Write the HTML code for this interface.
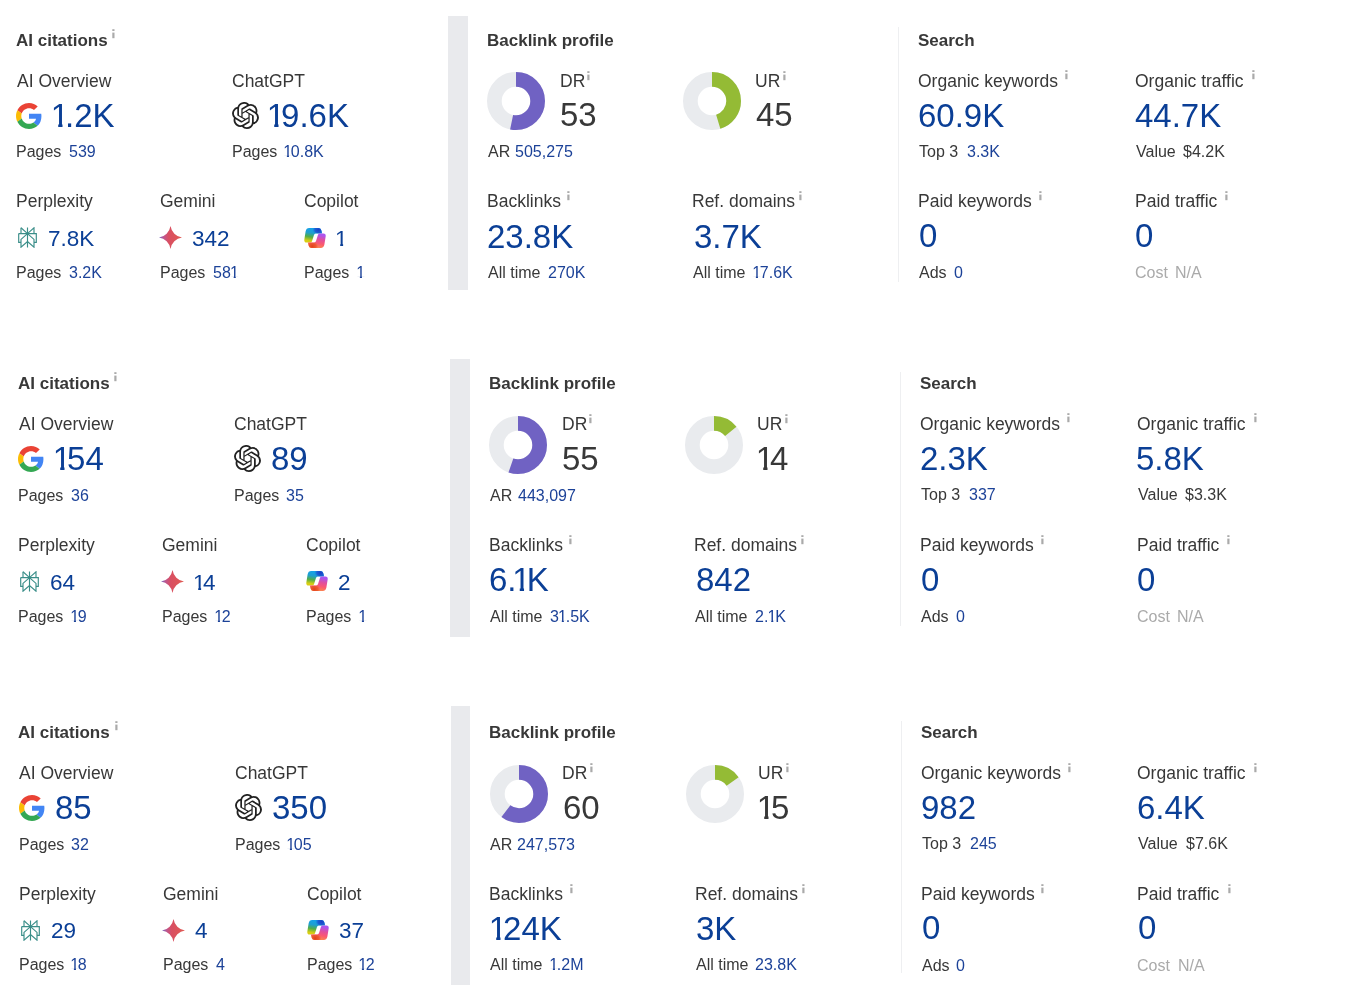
<!DOCTYPE html>
<html><head><meta charset="utf-8"><style>
html,body{margin:0;padding:0;background:#fff;width:1350px;height:1000px;overflow:hidden}
body{position:relative;font-family:"Liberation Sans",sans-serif}
.t{position:absolute;white-space:nowrap;line-height:1;will-change:transform}
.a{position:absolute}
.o{display:inline-block;margin-left:-0.133em;margin-right:-0.118em;clip-path:polygon(0 0,100% 0,100% 0.70em,0.36em 0.70em,0.36em 100%,0.23em 100%,0.23em 0.70em,0 0.70em)}.os{display:inline-block;margin-left:-0.05em;margin-right:-0.08em;clip-path:polygon(0 0,100% 0,100% 0.70em,0.36em 0.70em,0.36em 100%,0.23em 100%,0.23em 0.70em,0 0.70em)}
svg{display:block}
</style></head><body>
<div class="t" style="left:15.70px;top:32.00px;font-size:17px;color:#383838;font-weight:700;">AI citations</div>
<svg class="a" style="left:111.80px;top:29.00px" width="3" height="10"><rect x="0.3" y="0.2" width="2.2" height="1.8" fill="#aaa"/><rect x="0.3" y="3.6" width="2.2" height="5.6" fill="#aaa"/></svg>
<div class="t" style="left:16.70px;top:73.00px;font-size:17.5px;color:#383838;font-weight:400;">AI Overview</div>
<div class="a" style="left:16.00px;top:103.00px;line-height:0"><svg viewBox="0 0 48 48" width="26" height="26"><path fill="#EA4335" d="M24 9.5c3.54 0 6.71 1.22 9.21 3.6l6.85-6.85C35.9 2.38 30.47 0 24 0 14.62 0 6.51 5.38 2.56 13.22l7.98 6.19C12.43 13.72 17.74 9.5 24 9.5z"/><path fill="#4285F4" d="M46.98 24.55c0-1.570-.15-3.09-.38-4.55H24v9.02h12.94c-.58 2.96-2.26 5.48-4.780 7.18l7.73 6c4.51-4.18 7.09-10.36 7.09-17.65z"/><path fill="#FBBC05" d="M10.53 28.59c-.48-1.45-.76-2.99-.76-4.59s.27-3.14.76-4.59l-7.98-6.19C.92 16.46 0 20.12 0 24c0 3.88.92 7.54 2.56 10.78l7.97-6.19z"/><path fill="#34A853" d="M24 48c6.48 0 11.930-2.13 15.89-5.81l-7.73-6c-2.15 1.45-4.92 2.3-8.16 2.3-6.26 0-11.57-4.22-13.47-9.91l-7.98 6.19C6.51 42.62 14.62 48 24 48z"/></svg></div>
<div class="t" style="left:54.60px;top:99.00px;font-size:33px;color:#0b3f96;font-weight:400;"><span class="o">1</span>.2K</div>
<div class="t" style="left:16.10px;top:144.00px;font-size:16px;color:#383838;font-weight:400;">Pages</div>
<div class="t" style="left:68.60px;top:144.00px;font-size:16px;color:#1c4298;font-weight:400;">539</div>
<div class="t" style="left:232.00px;top:73.00px;font-size:17.5px;color:#383838;font-weight:400;">ChatGPT</div>
<div class="a" style="left:232.00px;top:102.00px;line-height:0"><svg viewBox="0 0 24 24" width="27" height="27"><path fill="#222" d="M22.2819 9.8211a5.9847 5.9847 0 0 0-.5157-4.9108 6.0462 6.0462 0 0 0-6.5098-2.9A6.0651 6.0651 0 0 0 4.9807 4.1818a5.9847 5.9847 0 0 0-3.9977 2.9 6.0462 6.0462 0 0 0 .7427 7.0966 5.98 5.98 0 0 0 .511 4.9107 6.051 6.051 0 0 0 6.5146 2.9001A5.9847 5.9847 0 0 0 13.2599 24a6.0557 6.0557 0 0 0 5.7718-4.2058 5.9894 5.9894 0 0 0 3.9977-2.9001 6.0557 6.0557 0 0 0-.7475-7.0729zm-9.022 12.6081a4.4755 4.4755 0 0 1-2.8764-1.0408l.1419-.0804 4.7783-2.7582a.7948.7948 0 0 0 .3927-.6813v-6.7369l2.02 1.1686a.071.071 0 0 1 .038.052v5.5826a4.504 4.504 0 0 1-4.4945 4.4944zm-9.6607-4.1254a4.4708 4.4708 0 0 1-.5346-3.0137l.142.0852 4.783 2.7582a.7712.7712 0 0 0 .7806 0l5.8428-3.3685v2.3324a.0804.0804 0 0 1-.0332.0615L9.74 19.9502a4.4992 4.4992 0 0 1-6.1408-1.6464zM2.3408 7.8956a4.485 4.485 0 0 1 2.3655-1.9728V11.6a.7664.7664 0 0 0 .3879.6765l5.8144 3.3543-2.0201 1.1685a.0757.0757 0 0 1-.071 0l-4.8303-2.7865A4.504 4.504 0 0 1 2.3408 7.872zm16.5963 3.8558L13.1038 8.364 15.1192 7.2a.0757.0757 0 0 1 .071 0l4.8303 2.7913a4.4944 4.4944 0 0 1-.6765 8.1042v-5.6772a.79.79 0 0 0-.407-.667zm2.0107-3.0231l-.142-.0852-4.7735-2.7818a.7759.7759 0 0 0-.7854 0L9.409 9.2297V6.8974a.0662.0662 0 0 1 .0284-.0615l4.8303-2.7866a4.4992 4.4992 0 0 1 6.6802 4.66zM8.3065 12.863l-2.02-1.1638a.0804.0804 0 0 1-.038-.0567V6.0742a4.4992 4.4992 0 0 1 7.3757-3.4537l-.142.0805L8.704 5.459a.7948.7948 0 0 0-.3927.6813zm1.0976-2.3654l2.602-1.4998 2.6069 1.4998v2.9994l-2.5974 1.4997-2.6067-1.4997Z"/></svg></div>
<div class="t" style="left:270.90px;top:99.00px;font-size:33px;color:#0b3f96;font-weight:400;"><span class="o">1</span>9.6K</div>
<div class="t" style="left:232.00px;top:144.00px;font-size:16px;color:#383838;font-weight:400;">Pages</div>
<div class="t" style="left:284.00px;top:144.00px;font-size:16px;color:#1c4298;font-weight:400;"><span class="os">1</span>0.8K</div>
<div class="t" style="left:16.10px;top:193.00px;font-size:17.5px;color:#383838;font-weight:400;">Perplexity</div>
<div class="a" style="left:17.90px;top:227.00px;line-height:0"><svg viewBox="0 0 19 21" width="19" height="21"><g fill="none" stroke="#3a8e89" stroke-width="1.15" stroke-linejoin="miter"><path d="M9.5 0.5V20.5"/><path d="M3 0.8L9.5 6.6L16 0.8V6.6"/><path d="M3 0.8V6.6"/><path d="M0.7 6.6H18.3V15.4H16"/><path d="M0.7 6.6V15.4H3"/><path d="M9.5 6.6L3 12.4V20.2L9.5 14.6L16 20.2V12.4L9.5 6.6"/></g></svg></div>
<div class="t" style="left:47.90px;top:228.00px;font-size:22.5px;color:#0b3f96;font-weight:400;">7.8K</div>
<div class="t" style="left:16.10px;top:265.00px;font-size:16px;color:#383838;font-weight:400;">Pages</div>
<div class="t" style="left:68.60px;top:265.00px;font-size:16px;color:#1c4298;font-weight:400;">3.2K</div>
<div class="t" style="left:160.00px;top:193.00px;font-size:17.5px;color:#383838;font-weight:400;">Gemini</div>
<div class="a" style="left:159.00px;top:226.20px;line-height:0"><svg viewBox="0 0 24 24" width="23" height="23"><defs><linearGradient id="gg1" x1="0" y1="0.5" x2="1" y2="0.5"><stop offset="0" stop-color="#7466c2"/><stop offset="0.22" stop-color="#c2568a"/><stop offset="0.42" stop-color="#d94f62"/><stop offset="1" stop-color="#e05a52"/></linearGradient></defs><path fill="url(#gg1)" d="M12 24A14.3 14.3 0 0 0 0 12A14.3 14.3 0 0 0 12 0A14.3 14.3 0 0 0 24 12A14.3 14.3 0 0 0 12 24Z"/></svg></div>
<div class="t" style="left:191.80px;top:228.00px;font-size:22.5px;color:#0b3f96;font-weight:400;">342</div>
<div class="t" style="left:160.00px;top:265.00px;font-size:16px;color:#383838;font-weight:400;">Pages</div>
<div class="t" style="left:212.50px;top:265.00px;font-size:16px;color:#1c4298;font-weight:400;">58<span class="os">1</span></div>
<div class="t" style="left:304.00px;top:193.00px;font-size:17.5px;color:#383838;font-weight:400;">Copilot</div>
<div class="a" style="left:304.00px;top:227.50px;line-height:0"><svg viewBox="0 0 22 20" width="22" height="20"><defs>
<linearGradient id="cl1" x1="0.55" y1="0" x2="0.35" y2="1"><stop offset="0" stop-color="#14a2ec"/><stop offset="0.35" stop-color="#1f9fcf"/><stop offset="0.62" stop-color="#52ad48"/><stop offset="0.9" stop-color="#d8ce12"/></linearGradient>
<linearGradient id="cr1" x1="0.65" y1="0" x2="0.45" y2="1"><stop offset="0.1" stop-color="#ad55ee"/><stop offset="0.4" stop-color="#e04f9f"/><stop offset="0.68" stop-color="#fa5872"/><stop offset="1" stop-color="#fb8a4c"/></linearGradient>
<radialGradient id="cb1" cx="0.8" cy="0.12" r="0.35"><stop offset="0" stop-color="#1b3ec4"/><stop offset="0.6" stop-color="#1b4fd0" stop-opacity="0.8"/><stop offset="1" stop-color="#1b6fe0" stop-opacity="0"/></radialGradient>
<radialGradient id="co1" cx="0.25" cy="0.88" r="0.35"><stop offset="0" stop-color="#e2401c"/><stop offset="0.6" stop-color="#ea5228" stop-opacity="0.8"/><stop offset="1" stop-color="#f06a3a" stop-opacity="0"/></radialGradient>
</defs>
<path fill="url(#cl1)" d="M5.2 0L14.5 0Q16.6 0 17.2 2L18.2 5.6L11.8 5.6Q10.3 5.6 9.9 7.2L8 13.3Q7.6 14.6 6.2 14.6L2.6 14.6Q0 14.6 0.3 11.8L1.6 3.4Q2.2 0 5.2 0Z"/>
<path fill="url(#cb1)" d="M5.2 0L14.5 0Q16.6 0 17.2 2L18.2 5.6L11.8 5.6Q10.3 5.6 9.9 7.2L8 13.3Q7.6 14.6 6.2 14.6L2.6 14.6Q0 14.6 0.3 11.8L1.6 3.4Q2.2 0 5.2 0Z"/>
<path fill="url(#cr1)" d="M16.8 20L7.5 20Q5.4 20 4.8 18L3.8 14.4L10.2 14.4Q11.7 14.4 12.1 12.8L14 6.7Q14.4 5.4 15.8 5.4L19.4 5.4Q22 5.4 21.7 8.2L20.4 16.6Q19.8 20 16.8 20Z"/>
<path fill="url(#co1)" d="M16.8 20L7.5 20Q5.4 20 4.8 18L3.8 14.4L10.2 14.4Q11.7 14.4 12.1 12.8L14 6.7Q14.4 5.4 15.8 5.4L19.4 5.4Q22 5.4 21.7 8.2L20.4 16.6Q19.8 20 16.8 20Z"/>
</svg></div>
<div class="t" style="left:337.80px;top:228.00px;font-size:22.5px;color:#0b3f96;font-weight:400;"><span class="o">1</span></div>
<div class="t" style="left:304.00px;top:265.00px;font-size:16px;color:#383838;font-weight:400;">Pages</div>
<div class="t" style="left:356.50px;top:265.00px;font-size:16px;color:#1c4298;font-weight:400;"><span class="os">1</span></div>
<div class="a" style="left:448px;top:16px;width:20px;height:274px;background:#e9eaed"></div>
<div class="t" style="left:486.70px;top:32.00px;font-size:17px;color:#383838;font-weight:700;">Backlink profile</div>
<svg class="a" style="left:486.20px;top:70.90px" width="60" height="60" viewBox="0 0 60 60"><circle cx="30" cy="30" r="21.65" fill="none" stroke="#e9ebee" stroke-width="14.7"/><circle cx="30" cy="30" r="21.65" fill="none" stroke="#7062c3" stroke-width="14.7" stroke-dasharray="72.096 136.031" transform="rotate(-90 30 30)"/></svg>
<div class="t" style="left:559.60px;top:73.00px;font-size:17.5px;color:#383838;font-weight:400;">DR</div>
<svg class="a" style="left:587.30px;top:70.70px" width="3" height="10"><rect x="0.3" y="0.2" width="2.2" height="1.8" fill="#aaa"/><rect x="0.3" y="3.6" width="2.2" height="5.6" fill="#aaa"/></svg>
<div class="t" style="left:559.80px;top:98.00px;font-size:33px;color:#383838;font-weight:400;">53</div>
<div class="t" style="left:487.70px;top:144.00px;font-size:16px;color:#383838;font-weight:400;">AR</div>
<div class="t" style="left:514.60px;top:144.00px;font-size:16px;color:#1c4298;font-weight:400;">505,275</div>
<svg class="a" style="left:682.00px;top:70.90px" width="60" height="60" viewBox="0 0 60 60"><circle cx="30" cy="30" r="21.65" fill="none" stroke="#e9ebee" stroke-width="14.7"/><circle cx="30" cy="30" r="21.65" fill="none" stroke="#94bb35" stroke-width="14.7" stroke-dasharray="61.214 136.031" transform="rotate(-90 30 30)"/></svg>
<div class="t" style="left:755.20px;top:73.00px;font-size:17.5px;color:#383838;font-weight:400;">UR</div>
<svg class="a" style="left:783.40px;top:70.70px" width="3" height="10"><rect x="0.3" y="0.2" width="2.2" height="1.8" fill="#aaa"/><rect x="0.3" y="3.6" width="2.2" height="5.6" fill="#aaa"/></svg>
<div class="t" style="left:755.80px;top:98.00px;font-size:33px;color:#383838;font-weight:400;">45</div>
<div class="t" style="left:486.70px;top:193.00px;font-size:17.5px;color:#383838;font-weight:400;">Backlinks</div>
<svg class="a" style="left:567.10px;top:191.30px" width="3" height="10"><rect x="0.3" y="0.2" width="2.2" height="1.8" fill="#aaa"/><rect x="0.3" y="3.6" width="2.2" height="5.6" fill="#aaa"/></svg>
<div class="t" style="left:487.00px;top:220.00px;font-size:33px;color:#0b3f96;font-weight:400;">23.8K</div>
<div class="t" style="left:487.70px;top:265.00px;font-size:16px;color:#383838;font-weight:400;">All time</div>
<div class="t" style="left:547.50px;top:265.00px;font-size:16px;color:#1c4298;font-weight:400;">270K</div>
<div class="t" style="left:692.30px;top:193.00px;font-size:17.5px;color:#383838;font-weight:400;">Ref. domains</div>
<svg class="a" style="left:799.40px;top:191.30px" width="3" height="10"><rect x="0.3" y="0.2" width="2.2" height="1.8" fill="#aaa"/><rect x="0.3" y="3.6" width="2.2" height="5.6" fill="#aaa"/></svg>
<div class="t" style="left:693.50px;top:220.00px;font-size:33px;color:#0b3f96;font-weight:400;">3.7K</div>
<div class="t" style="left:693.30px;top:265.00px;font-size:16px;color:#383838;font-weight:400;">All time</div>
<div class="t" style="left:752.70px;top:265.00px;font-size:16px;color:#1c4298;font-weight:400;"><span class="os">1</span>7.6K</div>
<div class="a" style="left:898px;top:27px;width:1px;height:255px;background:#eeeff1"></div>
<div class="t" style="left:918.40px;top:32.00px;font-size:17px;color:#383838;font-weight:700;">Search</div>
<div class="t" style="left:918.40px;top:73.00px;font-size:17.5px;color:#383838;font-weight:400;">Organic keywords</div>
<svg class="a" style="left:1065.30px;top:70.20px" width="3" height="10"><rect x="0.3" y="0.2" width="2.2" height="1.8" fill="#aaa"/><rect x="0.3" y="3.6" width="2.2" height="5.6" fill="#aaa"/></svg>
<div class="t" style="left:918.40px;top:99.00px;font-size:33px;color:#0b3f96;font-weight:400;">60.9K</div>
<div class="t" style="left:919.40px;top:144.00px;font-size:16px;color:#383838;font-weight:400;">Top 3</div>
<div class="t" style="left:967.00px;top:144.00px;font-size:16px;color:#1c4298;font-weight:400;">3.3K</div>
<div class="t" style="left:1134.70px;top:73.00px;font-size:17.5px;color:#383838;font-weight:400;">Organic traffic</div>
<svg class="a" style="left:1251.70px;top:70.20px" width="3" height="10"><rect x="0.3" y="0.2" width="2.2" height="1.8" fill="#aaa"/><rect x="0.3" y="3.6" width="2.2" height="5.6" fill="#aaa"/></svg>
<div class="t" style="left:1135.30px;top:99.00px;font-size:33px;color:#0b3f96;font-weight:400;">44.7K</div>
<div class="t" style="left:1135.70px;top:144.00px;font-size:16px;color:#383838;font-weight:400;">Value</div>
<div class="t" style="left:1183.00px;top:144.00px;font-size:16px;color:#383838;font-weight:400;">$4.2K</div>
<div class="t" style="left:918.30px;top:193.00px;font-size:17.5px;color:#383838;font-weight:400;">Paid keywords</div>
<svg class="a" style="left:1038.70px;top:191.30px" width="3" height="10"><rect x="0.3" y="0.2" width="2.2" height="1.8" fill="#aaa"/><rect x="0.3" y="3.6" width="2.2" height="5.6" fill="#aaa"/></svg>
<div class="t" style="left:919.40px;top:219.00px;font-size:33px;color:#0b3f96;font-weight:400;">0</div>
<div class="t" style="left:919.30px;top:265.00px;font-size:16px;color:#383838;font-weight:400;">Ads</div>
<div class="t" style="left:953.70px;top:265.00px;font-size:16px;color:#1c4298;font-weight:400;">0</div>
<div class="t" style="left:1134.70px;top:193.00px;font-size:17.5px;color:#383838;font-weight:400;">Paid traffic</div>
<svg class="a" style="left:1225.00px;top:191.30px" width="3" height="10"><rect x="0.3" y="0.2" width="2.2" height="1.8" fill="#aaa"/><rect x="0.3" y="3.6" width="2.2" height="5.6" fill="#aaa"/></svg>
<div class="t" style="left:1135.30px;top:219.00px;font-size:33px;color:#0b3f96;font-weight:400;">0</div>
<div class="t" style="left:1134.70px;top:265.00px;font-size:16px;color:#aaa;font-weight:400;">Cost</div>
<div class="t" style="left:1175.30px;top:265.00px;font-size:16px;color:#aaa;font-weight:400;">N/A</div>
<div class="t" style="left:17.70px;top:375.00px;font-size:17px;color:#383838;font-weight:700;">AI citations</div>
<svg class="a" style="left:113.80px;top:372.04px" width="3" height="10"><rect x="0.3" y="0.2" width="2.2" height="1.8" fill="#aaa"/><rect x="0.3" y="3.6" width="2.2" height="5.6" fill="#aaa"/></svg>
<div class="t" style="left:18.70px;top:416.00px;font-size:17.5px;color:#383838;font-weight:400;">AI Overview</div>
<div class="a" style="left:18.00px;top:446.30px;line-height:0"><svg viewBox="0 0 48 48" width="26" height="26"><path fill="#EA4335" d="M24 9.5c3.54 0 6.71 1.22 9.21 3.6l6.85-6.85C35.9 2.38 30.47 0 24 0 14.62 0 6.51 5.38 2.56 13.22l7.98 6.19C12.43 13.72 17.74 9.5 24 9.5z"/><path fill="#4285F4" d="M46.98 24.55c0-1.570-.15-3.09-.38-4.55H24v9.02h12.94c-.58 2.96-2.26 5.48-4.780 7.18l7.73 6c4.51-4.18 7.09-10.36 7.09-17.65z"/><path fill="#FBBC05" d="M10.53 28.59c-.48-1.45-.76-2.99-.76-4.59s.27-3.14.76-4.59l-7.98-6.19C.92 16.46 0 20.12 0 24c0 3.88.92 7.54 2.56 10.78l7.97-6.19z"/><path fill="#34A853" d="M24 48c6.48 0 11.930-2.13 15.89-5.81l-7.73-6c-2.15 1.45-4.92 2.3-8.16 2.3-6.26 0-11.57-4.22-13.47-9.91l-7.98 6.19C6.51 42.62 14.62 48 24 48z"/></svg></div>
<div class="t" style="left:56.60px;top:442.00px;font-size:33px;color:#0b3f96;font-weight:400;"><span class="o">1</span>54</div>
<div class="t" style="left:18.10px;top:488.00px;font-size:16px;color:#383838;font-weight:400;">Pages</div>
<div class="t" style="left:70.60px;top:488.00px;font-size:16px;color:#1c4298;font-weight:400;">36</div>
<div class="t" style="left:234.00px;top:416.00px;font-size:17.5px;color:#383838;font-weight:400;">ChatGPT</div>
<div class="a" style="left:234.00px;top:445.30px;line-height:0"><svg viewBox="0 0 24 24" width="27" height="27"><path fill="#222" d="M22.2819 9.8211a5.9847 5.9847 0 0 0-.5157-4.9108 6.0462 6.0462 0 0 0-6.5098-2.9A6.0651 6.0651 0 0 0 4.9807 4.1818a5.9847 5.9847 0 0 0-3.9977 2.9 6.0462 6.0462 0 0 0 .7427 7.0966 5.98 5.98 0 0 0 .511 4.9107 6.051 6.051 0 0 0 6.5146 2.9001A5.9847 5.9847 0 0 0 13.2599 24a6.0557 6.0557 0 0 0 5.7718-4.2058 5.9894 5.9894 0 0 0 3.9977-2.9001 6.0557 6.0557 0 0 0-.7475-7.0729zm-9.022 12.6081a4.4755 4.4755 0 0 1-2.8764-1.0408l.1419-.0804 4.7783-2.7582a.7948.7948 0 0 0 .3927-.6813v-6.7369l2.02 1.1686a.071.071 0 0 1 .038.052v5.5826a4.504 4.504 0 0 1-4.4945 4.4944zm-9.6607-4.1254a4.4708 4.4708 0 0 1-.5346-3.0137l.142.0852 4.783 2.7582a.7712.7712 0 0 0 .7806 0l5.8428-3.3685v2.3324a.0804.0804 0 0 1-.0332.0615L9.74 19.9502a4.4992 4.4992 0 0 1-6.1408-1.6464zM2.3408 7.8956a4.485 4.485 0 0 1 2.3655-1.9728V11.6a.7664.7664 0 0 0 .3879.6765l5.8144 3.3543-2.0201 1.1685a.0757.0757 0 0 1-.071 0l-4.8303-2.7865A4.504 4.504 0 0 1 2.3408 7.872zm16.5963 3.8558L13.1038 8.364 15.1192 7.2a.0757.0757 0 0 1 .071 0l4.8303 2.7913a4.4944 4.4944 0 0 1-.6765 8.1042v-5.6772a.79.79 0 0 0-.407-.667zm2.0107-3.0231l-.142-.0852-4.7735-2.7818a.7759.7759 0 0 0-.7854 0L9.409 9.2297V6.8974a.0662.0662 0 0 1 .0284-.0615l4.8303-2.7866a4.4992 4.4992 0 0 1 6.6802 4.66zM8.3065 12.863l-2.02-1.1638a.0804.0804 0 0 1-.038-.0567V6.0742a4.4992 4.4992 0 0 1 7.3757-3.4537l-.142.0805L8.704 5.459a.7948.7948 0 0 0-.3927.6813zm1.0976-2.3654l2.602-1.4998 2.6069 1.4998v2.9994l-2.5974 1.4997-2.6067-1.4997Z"/></svg></div>
<div class="t" style="left:270.90px;top:442.00px;font-size:33px;color:#0b3f96;font-weight:400;">89</div>
<div class="t" style="left:234.00px;top:488.00px;font-size:16px;color:#383838;font-weight:400;">Pages</div>
<div class="t" style="left:286.00px;top:488.00px;font-size:16px;color:#1c4298;font-weight:400;">35</div>
<div class="t" style="left:18.10px;top:537.00px;font-size:17.5px;color:#383838;font-weight:400;">Perplexity</div>
<div class="a" style="left:19.90px;top:570.73px;line-height:0"><svg viewBox="0 0 19 21" width="19" height="21"><g fill="none" stroke="#3a8e89" stroke-width="1.15" stroke-linejoin="miter"><path d="M9.5 0.5V20.5"/><path d="M3 0.8L9.5 6.6L16 0.8V6.6"/><path d="M3 0.8V6.6"/><path d="M0.7 6.6H18.3V15.4H16"/><path d="M0.7 6.6V15.4H3"/><path d="M9.5 6.6L3 12.4V20.2L9.5 14.6L16 20.2V12.4L9.5 6.6"/></g></svg></div>
<div class="t" style="left:49.90px;top:572.00px;font-size:22.5px;color:#0b3f96;font-weight:400;">64</div>
<div class="t" style="left:18.10px;top:609.00px;font-size:16px;color:#383838;font-weight:400;">Pages</div>
<div class="t" style="left:70.60px;top:609.00px;font-size:16px;color:#1c4298;font-weight:400;"><span class="os">1</span>9</div>
<div class="t" style="left:162.00px;top:537.00px;font-size:17.5px;color:#383838;font-weight:400;">Gemini</div>
<div class="a" style="left:161.00px;top:569.93px;line-height:0"><svg viewBox="0 0 24 24" width="23" height="23"><defs><linearGradient id="gg2" x1="0" y1="0.5" x2="1" y2="0.5"><stop offset="0" stop-color="#7466c2"/><stop offset="0.22" stop-color="#c2568a"/><stop offset="0.42" stop-color="#d94f62"/><stop offset="1" stop-color="#e05a52"/></linearGradient></defs><path fill="url(#gg2)" d="M12 24A14.3 14.3 0 0 0 0 12A14.3 14.3 0 0 0 12 0A14.3 14.3 0 0 0 24 12A14.3 14.3 0 0 0 12 24Z"/></svg></div>
<div class="t" style="left:195.80px;top:572.00px;font-size:22.5px;color:#0b3f96;font-weight:400;"><span class="o">1</span>4</div>
<div class="t" style="left:162.00px;top:609.00px;font-size:16px;color:#383838;font-weight:400;">Pages</div>
<div class="t" style="left:214.50px;top:609.00px;font-size:16px;color:#1c4298;font-weight:400;"><span class="os">1</span>2</div>
<div class="t" style="left:306.00px;top:537.00px;font-size:17.5px;color:#383838;font-weight:400;">Copilot</div>
<div class="a" style="left:306.00px;top:571.24px;line-height:0"><svg viewBox="0 0 22 20" width="22" height="20"><defs>
<linearGradient id="cl2" x1="0.55" y1="0" x2="0.35" y2="1"><stop offset="0" stop-color="#14a2ec"/><stop offset="0.35" stop-color="#1f9fcf"/><stop offset="0.62" stop-color="#52ad48"/><stop offset="0.9" stop-color="#d8ce12"/></linearGradient>
<linearGradient id="cr2" x1="0.65" y1="0" x2="0.45" y2="1"><stop offset="0.1" stop-color="#ad55ee"/><stop offset="0.4" stop-color="#e04f9f"/><stop offset="0.68" stop-color="#fa5872"/><stop offset="1" stop-color="#fb8a4c"/></linearGradient>
<radialGradient id="cb2" cx="0.8" cy="0.12" r="0.35"><stop offset="0" stop-color="#1b3ec4"/><stop offset="0.6" stop-color="#1b4fd0" stop-opacity="0.8"/><stop offset="1" stop-color="#1b6fe0" stop-opacity="0"/></radialGradient>
<radialGradient id="co2" cx="0.25" cy="0.88" r="0.35"><stop offset="0" stop-color="#e2401c"/><stop offset="0.6" stop-color="#ea5228" stop-opacity="0.8"/><stop offset="1" stop-color="#f06a3a" stop-opacity="0"/></radialGradient>
</defs>
<path fill="url(#cl2)" d="M5.2 0L14.5 0Q16.6 0 17.2 2L18.2 5.6L11.8 5.6Q10.3 5.6 9.9 7.2L8 13.3Q7.6 14.6 6.2 14.6L2.6 14.6Q0 14.6 0.3 11.8L1.6 3.4Q2.2 0 5.2 0Z"/>
<path fill="url(#cb2)" d="M5.2 0L14.5 0Q16.6 0 17.2 2L18.2 5.6L11.8 5.6Q10.3 5.6 9.9 7.2L8 13.3Q7.6 14.6 6.2 14.6L2.6 14.6Q0 14.6 0.3 11.8L1.6 3.4Q2.2 0 5.2 0Z"/>
<path fill="url(#cr2)" d="M16.8 20L7.5 20Q5.4 20 4.8 18L3.8 14.4L10.2 14.4Q11.7 14.4 12.1 12.8L14 6.7Q14.4 5.4 15.8 5.4L19.4 5.4Q22 5.4 21.7 8.2L20.4 16.6Q19.8 20 16.8 20Z"/>
<path fill="url(#co2)" d="M16.8 20L7.5 20Q5.4 20 4.8 18L3.8 14.4L10.2 14.4Q11.7 14.4 12.1 12.8L14 6.7Q14.4 5.4 15.8 5.4L19.4 5.4Q22 5.4 21.7 8.2L20.4 16.6Q19.8 20 16.8 20Z"/>
</svg></div>
<div class="t" style="left:337.80px;top:572.00px;font-size:22.5px;color:#0b3f96;font-weight:400;">2</div>
<div class="t" style="left:306.00px;top:609.00px;font-size:16px;color:#383838;font-weight:400;">Pages</div>
<div class="t" style="left:358.50px;top:609.00px;font-size:16px;color:#1c4298;font-weight:400;"><span class="os">1</span></div>
<div class="a" style="left:450px;top:359px;width:20px;height:278px;background:#e9eaed"></div>
<div class="t" style="left:488.70px;top:375.00px;font-size:17px;color:#383838;font-weight:700;">Backlink profile</div>
<svg class="a" style="left:488.20px;top:414.89px" width="60" height="60" viewBox="0 0 60 60"><circle cx="30" cy="30" r="21.65" fill="none" stroke="#e9ebee" stroke-width="14.7"/><circle cx="30" cy="30" r="21.65" fill="none" stroke="#7062c3" stroke-width="14.7" stroke-dasharray="74.817 136.031" transform="rotate(-90 30 30)"/></svg>
<div class="t" style="left:561.60px;top:416.00px;font-size:17.5px;color:#383838;font-weight:400;">DR</div>
<svg class="a" style="left:589.30px;top:413.89px" width="3" height="10"><rect x="0.3" y="0.2" width="2.2" height="1.8" fill="#aaa"/><rect x="0.3" y="3.6" width="2.2" height="5.6" fill="#aaa"/></svg>
<div class="t" style="left:561.80px;top:442.00px;font-size:33px;color:#383838;font-weight:400;">55</div>
<div class="t" style="left:489.70px;top:488.00px;font-size:16px;color:#383838;font-weight:400;">AR</div>
<div class="t" style="left:517.60px;top:488.00px;font-size:16px;color:#1c4298;font-weight:400;">443,097</div>
<svg class="a" style="left:684.00px;top:414.89px" width="60" height="60" viewBox="0 0 60 60"><circle cx="30" cy="30" r="21.65" fill="none" stroke="#e9ebee" stroke-width="14.7"/><circle cx="30" cy="30" r="21.65" fill="none" stroke="#94bb35" stroke-width="14.7" stroke-dasharray="19.044 136.031" transform="rotate(-90 30 30)"/></svg>
<div class="t" style="left:757.20px;top:416.00px;font-size:17.5px;color:#383838;font-weight:400;">UR</div>
<svg class="a" style="left:785.40px;top:413.89px" width="3" height="10"><rect x="0.3" y="0.2" width="2.2" height="1.8" fill="#aaa"/><rect x="0.3" y="3.6" width="2.2" height="5.6" fill="#aaa"/></svg>
<div class="t" style="left:759.80px;top:442.00px;font-size:33px;color:#383838;font-weight:400;"><span class="o">1</span>4</div>
<div class="t" style="left:488.70px;top:537.00px;font-size:17.5px;color:#383838;font-weight:400;">Backlinks</div>
<svg class="a" style="left:569.10px;top:534.91px" width="3" height="10"><rect x="0.3" y="0.2" width="2.2" height="1.8" fill="#aaa"/><rect x="0.3" y="3.6" width="2.2" height="5.6" fill="#aaa"/></svg>
<div class="t" style="left:489.00px;top:563.00px;font-size:33px;color:#0b3f96;font-weight:400;">6.<span class="o">1</span>K</div>
<div class="t" style="left:489.70px;top:609.00px;font-size:16px;color:#383838;font-weight:400;">All time</div>
<div class="t" style="left:549.50px;top:609.00px;font-size:16px;color:#1c4298;font-weight:400;">3<span class="os">1</span>.5K</div>
<div class="t" style="left:694.30px;top:537.00px;font-size:17.5px;color:#383838;font-weight:400;">Ref. domains</div>
<svg class="a" style="left:801.40px;top:534.91px" width="3" height="10"><rect x="0.3" y="0.2" width="2.2" height="1.8" fill="#aaa"/><rect x="0.3" y="3.6" width="2.2" height="5.6" fill="#aaa"/></svg>
<div class="t" style="left:695.50px;top:563.00px;font-size:33px;color:#0b3f96;font-weight:400;">842</div>
<div class="t" style="left:695.30px;top:609.00px;font-size:16px;color:#383838;font-weight:400;">All time</div>
<div class="t" style="left:754.70px;top:609.00px;font-size:16px;color:#1c4298;font-weight:400;">2.<span class="os">1</span>K</div>
<div class="a" style="left:900px;top:372px;width:1px;height:254px;background:#eeeff1"></div>
<div class="t" style="left:920.40px;top:375.00px;font-size:17px;color:#383838;font-weight:700;">Search</div>
<div class="t" style="left:920.40px;top:416.00px;font-size:17.5px;color:#383838;font-weight:400;">Organic keywords</div>
<svg class="a" style="left:1067.30px;top:413.38px" width="3" height="10"><rect x="0.3" y="0.2" width="2.2" height="1.8" fill="#aaa"/><rect x="0.3" y="3.6" width="2.2" height="5.6" fill="#aaa"/></svg>
<div class="t" style="left:920.40px;top:442.00px;font-size:33px;color:#0b3f96;font-weight:400;">2.3K</div>
<div class="t" style="left:921.40px;top:487.00px;font-size:16px;color:#383838;font-weight:400;">Top 3</div>
<div class="t" style="left:969.00px;top:487.00px;font-size:16px;color:#1c4298;font-weight:400;">337</div>
<div class="t" style="left:1136.70px;top:416.00px;font-size:17.5px;color:#383838;font-weight:400;">Organic traffic</div>
<svg class="a" style="left:1253.70px;top:413.38px" width="3" height="10"><rect x="0.3" y="0.2" width="2.2" height="1.8" fill="#aaa"/><rect x="0.3" y="3.6" width="2.2" height="5.6" fill="#aaa"/></svg>
<div class="t" style="left:1136.30px;top:442.00px;font-size:33px;color:#0b3f96;font-weight:400;">5.8K</div>
<div class="t" style="left:1137.70px;top:487.00px;font-size:16px;color:#383838;font-weight:400;">Value</div>
<div class="t" style="left:1185.00px;top:487.00px;font-size:16px;color:#383838;font-weight:400;">$3.3K</div>
<div class="t" style="left:920.30px;top:537.00px;font-size:17.5px;color:#383838;font-weight:400;">Paid keywords</div>
<svg class="a" style="left:1040.70px;top:534.91px" width="3" height="10"><rect x="0.3" y="0.2" width="2.2" height="1.8" fill="#aaa"/><rect x="0.3" y="3.6" width="2.2" height="5.6" fill="#aaa"/></svg>
<div class="t" style="left:921.40px;top:563.00px;font-size:33px;color:#0b3f96;font-weight:400;">0</div>
<div class="t" style="left:921.30px;top:609.00px;font-size:16px;color:#383838;font-weight:400;">Ads</div>
<div class="t" style="left:955.70px;top:609.00px;font-size:16px;color:#1c4298;font-weight:400;">0</div>
<div class="t" style="left:1136.70px;top:537.00px;font-size:17.5px;color:#383838;font-weight:400;">Paid traffic</div>
<svg class="a" style="left:1227.00px;top:534.91px" width="3" height="10"><rect x="0.3" y="0.2" width="2.2" height="1.8" fill="#aaa"/><rect x="0.3" y="3.6" width="2.2" height="5.6" fill="#aaa"/></svg>
<div class="t" style="left:1137.30px;top:563.00px;font-size:33px;color:#0b3f96;font-weight:400;">0</div>
<div class="t" style="left:1136.70px;top:609.00px;font-size:16px;color:#aaa;font-weight:400;">Cost</div>
<div class="t" style="left:1177.30px;top:609.00px;font-size:16px;color:#aaa;font-weight:400;">N/A</div>
<div class="t" style="left:18.45px;top:724.00px;font-size:17px;color:#383838;font-weight:700;">AI citations</div>
<svg class="a" style="left:114.55px;top:721.27px" width="3" height="10"><rect x="0.3" y="0.2" width="2.2" height="1.8" fill="#aaa"/><rect x="0.3" y="3.6" width="2.2" height="5.6" fill="#aaa"/></svg>
<div class="t" style="left:19.45px;top:765.00px;font-size:17.5px;color:#383838;font-weight:400;">AI Overview</div>
<div class="a" style="left:18.75px;top:795.40px;line-height:0"><svg viewBox="0 0 48 48" width="26" height="26"><path fill="#EA4335" d="M24 9.5c3.54 0 6.71 1.22 9.21 3.6l6.85-6.85C35.9 2.38 30.47 0 24 0 14.62 0 6.51 5.38 2.56 13.22l7.98 6.19C12.43 13.72 17.74 9.5 24 9.5z"/><path fill="#4285F4" d="M46.98 24.55c0-1.570-.15-3.09-.38-4.55H24v9.02h12.94c-.58 2.96-2.26 5.48-4.780 7.18l7.73 6c4.51-4.18 7.09-10.36 7.09-17.65z"/><path fill="#FBBC05" d="M10.53 28.59c-.48-1.45-.76-2.99-.76-4.59s.27-3.14.76-4.59l-7.98-6.19C.92 16.46 0 20.12 0 24c0 3.88.92 7.54 2.56 10.78l7.97-6.19z"/><path fill="#34A853" d="M24 48c6.48 0 11.930-2.13 15.89-5.81l-7.73-6c-2.15 1.45-4.92 2.3-8.16 2.3-6.26 0-11.57-4.22-13.47-9.91l-7.98 6.19C6.51 42.62 14.62 48 24 48z"/></svg></div>
<div class="t" style="left:55.35px;top:791.00px;font-size:33px;color:#0b3f96;font-weight:400;">85</div>
<div class="t" style="left:18.85px;top:837.00px;font-size:16px;color:#383838;font-weight:400;">Pages</div>
<div class="t" style="left:71.35px;top:837.00px;font-size:16px;color:#1c4298;font-weight:400;">32</div>
<div class="t" style="left:234.75px;top:765.00px;font-size:17.5px;color:#383838;font-weight:400;">ChatGPT</div>
<div class="a" style="left:234.75px;top:794.40px;line-height:0"><svg viewBox="0 0 24 24" width="27" height="27"><path fill="#222" d="M22.2819 9.8211a5.9847 5.9847 0 0 0-.5157-4.9108 6.0462 6.0462 0 0 0-6.5098-2.9A6.0651 6.0651 0 0 0 4.9807 4.1818a5.9847 5.9847 0 0 0-3.9977 2.9 6.0462 6.0462 0 0 0 .7427 7.0966 5.98 5.98 0 0 0 .511 4.9107 6.051 6.051 0 0 0 6.5146 2.9001A5.9847 5.9847 0 0 0 13.2599 24a6.0557 6.0557 0 0 0 5.7718-4.2058 5.9894 5.9894 0 0 0 3.9977-2.9001 6.0557 6.0557 0 0 0-.7475-7.0729zm-9.022 12.6081a4.4755 4.4755 0 0 1-2.8764-1.0408l.1419-.0804 4.7783-2.7582a.7948.7948 0 0 0 .3927-.6813v-6.7369l2.02 1.1686a.071.071 0 0 1 .038.052v5.5826a4.504 4.504 0 0 1-4.4945 4.4944zm-9.6607-4.1254a4.4708 4.4708 0 0 1-.5346-3.0137l.142.0852 4.783 2.7582a.7712.7712 0 0 0 .7806 0l5.8428-3.3685v2.3324a.0804.0804 0 0 1-.0332.0615L9.74 19.9502a4.4992 4.4992 0 0 1-6.1408-1.6464zM2.3408 7.8956a4.485 4.485 0 0 1 2.3655-1.9728V11.6a.7664.7664 0 0 0 .3879.6765l5.8144 3.3543-2.0201 1.1685a.0757.0757 0 0 1-.071 0l-4.8303-2.7865A4.504 4.504 0 0 1 2.3408 7.872zm16.5963 3.8558L13.1038 8.364 15.1192 7.2a.0757.0757 0 0 1 .071 0l4.8303 2.7913a4.4944 4.4944 0 0 1-.6765 8.1042v-5.6772a.79.79 0 0 0-.407-.667zm2.0107-3.0231l-.142-.0852-4.7735-2.7818a.7759.7759 0 0 0-.7854 0L9.409 9.2297V6.8974a.0662.0662 0 0 1 .0284-.0615l4.8303-2.7866a4.4992 4.4992 0 0 1 6.6802 4.66zM8.3065 12.863l-2.02-1.1638a.0804.0804 0 0 1-.038-.0567V6.0742a4.4992 4.4992 0 0 1 7.3757-3.4537l-.142.0805L8.704 5.459a.7948.7948 0 0 0-.3927.6813zm1.0976-2.3654l2.602-1.4998 2.6069 1.4998v2.9994l-2.5974 1.4997-2.6067-1.4997Z"/></svg></div>
<div class="t" style="left:271.65px;top:791.00px;font-size:33px;color:#0b3f96;font-weight:400;">350</div>
<div class="t" style="left:234.75px;top:837.00px;font-size:16px;color:#383838;font-weight:400;">Pages</div>
<div class="t" style="left:286.75px;top:837.00px;font-size:16px;color:#1c4298;font-weight:400;"><span class="os">1</span>05</div>
<div class="t" style="left:18.85px;top:886.00px;font-size:17.5px;color:#383838;font-weight:400;">Perplexity</div>
<div class="a" style="left:20.65px;top:919.61px;line-height:0"><svg viewBox="0 0 19 21" width="19" height="21"><g fill="none" stroke="#3a8e89" stroke-width="1.15" stroke-linejoin="miter"><path d="M9.5 0.5V20.5"/><path d="M3 0.8L9.5 6.6L16 0.8V6.6"/><path d="M3 0.8V6.6"/><path d="M0.7 6.6H18.3V15.4H16"/><path d="M0.7 6.6V15.4H3"/><path d="M9.5 6.6L3 12.4V20.2L9.5 14.6L16 20.2V12.4L9.5 6.6"/></g></svg></div>
<div class="t" style="left:50.65px;top:920.00px;font-size:22.5px;color:#0b3f96;font-weight:400;">29</div>
<div class="t" style="left:18.85px;top:957.00px;font-size:16px;color:#383838;font-weight:400;">Pages</div>
<div class="t" style="left:71.35px;top:957.00px;font-size:16px;color:#1c4298;font-weight:400;"><span class="os">1</span>8</div>
<div class="t" style="left:162.75px;top:886.00px;font-size:17.5px;color:#383838;font-weight:400;">Gemini</div>
<div class="a" style="left:161.75px;top:918.81px;line-height:0"><svg viewBox="0 0 24 24" width="23" height="23"><defs><linearGradient id="gg3" x1="0" y1="0.5" x2="1" y2="0.5"><stop offset="0" stop-color="#7466c2"/><stop offset="0.22" stop-color="#c2568a"/><stop offset="0.42" stop-color="#d94f62"/><stop offset="1" stop-color="#e05a52"/></linearGradient></defs><path fill="url(#gg3)" d="M12 24A14.3 14.3 0 0 0 0 12A14.3 14.3 0 0 0 12 0A14.3 14.3 0 0 0 24 12A14.3 14.3 0 0 0 12 24Z"/></svg></div>
<div class="t" style="left:194.55px;top:920.00px;font-size:22.5px;color:#0b3f96;font-weight:400;">4</div>
<div class="t" style="left:162.75px;top:957.00px;font-size:16px;color:#383838;font-weight:400;">Pages</div>
<div class="t" style="left:216.25px;top:957.00px;font-size:16px;color:#1c4298;font-weight:400;">4</div>
<div class="t" style="left:306.75px;top:886.00px;font-size:17.5px;color:#383838;font-weight:400;">Copilot</div>
<div class="a" style="left:306.75px;top:920.11px;line-height:0"><svg viewBox="0 0 22 20" width="22" height="20"><defs>
<linearGradient id="cl3" x1="0.55" y1="0" x2="0.35" y2="1"><stop offset="0" stop-color="#14a2ec"/><stop offset="0.35" stop-color="#1f9fcf"/><stop offset="0.62" stop-color="#52ad48"/><stop offset="0.9" stop-color="#d8ce12"/></linearGradient>
<linearGradient id="cr3" x1="0.65" y1="0" x2="0.45" y2="1"><stop offset="0.1" stop-color="#ad55ee"/><stop offset="0.4" stop-color="#e04f9f"/><stop offset="0.68" stop-color="#fa5872"/><stop offset="1" stop-color="#fb8a4c"/></linearGradient>
<radialGradient id="cb3" cx="0.8" cy="0.12" r="0.35"><stop offset="0" stop-color="#1b3ec4"/><stop offset="0.6" stop-color="#1b4fd0" stop-opacity="0.8"/><stop offset="1" stop-color="#1b6fe0" stop-opacity="0"/></radialGradient>
<radialGradient id="co3" cx="0.25" cy="0.88" r="0.35"><stop offset="0" stop-color="#e2401c"/><stop offset="0.6" stop-color="#ea5228" stop-opacity="0.8"/><stop offset="1" stop-color="#f06a3a" stop-opacity="0"/></radialGradient>
</defs>
<path fill="url(#cl3)" d="M5.2 0L14.5 0Q16.6 0 17.2 2L18.2 5.6L11.8 5.6Q10.3 5.6 9.9 7.2L8 13.3Q7.6 14.6 6.2 14.6L2.6 14.6Q0 14.6 0.3 11.8L1.6 3.4Q2.2 0 5.2 0Z"/>
<path fill="url(#cb3)" d="M5.2 0L14.5 0Q16.6 0 17.2 2L18.2 5.6L11.8 5.6Q10.3 5.6 9.9 7.2L8 13.3Q7.6 14.6 6.2 14.6L2.6 14.6Q0 14.6 0.3 11.8L1.6 3.4Q2.2 0 5.2 0Z"/>
<path fill="url(#cr3)" d="M16.8 20L7.5 20Q5.4 20 4.8 18L3.8 14.4L10.2 14.4Q11.7 14.4 12.1 12.8L14 6.7Q14.4 5.4 15.8 5.4L19.4 5.4Q22 5.4 21.7 8.2L20.4 16.6Q19.8 20 16.8 20Z"/>
<path fill="url(#co3)" d="M16.8 20L7.5 20Q5.4 20 4.8 18L3.8 14.4L10.2 14.4Q11.7 14.4 12.1 12.8L14 6.7Q14.4 5.4 15.8 5.4L19.4 5.4Q22 5.4 21.7 8.2L20.4 16.6Q19.8 20 16.8 20Z"/>
</svg></div>
<div class="t" style="left:338.55px;top:920.00px;font-size:22.5px;color:#0b3f96;font-weight:400;">37</div>
<div class="t" style="left:306.75px;top:957.00px;font-size:16px;color:#383838;font-weight:400;">Pages</div>
<div class="t" style="left:359.25px;top:957.00px;font-size:16px;color:#1c4298;font-weight:400;"><span class="os">1</span>2</div>
<div class="a" style="left:451px;top:706px;width:19px;height:279px;background:#e9eaed"></div>
<div class="t" style="left:489.45px;top:724.00px;font-size:17px;color:#383838;font-weight:700;">Backlink profile</div>
<svg class="a" style="left:488.95px;top:764.19px" width="60" height="60" viewBox="0 0 60 60"><circle cx="30" cy="30" r="21.65" fill="none" stroke="#e9ebee" stroke-width="14.7"/><circle cx="30" cy="30" r="21.65" fill="none" stroke="#7062c3" stroke-width="14.7" stroke-dasharray="81.619 136.031" transform="rotate(-90 30 30)"/></svg>
<div class="t" style="left:562.35px;top:765.00px;font-size:17.5px;color:#383838;font-weight:400;">DR</div>
<svg class="a" style="left:590.05px;top:763.04px" width="3" height="10"><rect x="0.3" y="0.2" width="2.2" height="1.8" fill="#aaa"/><rect x="0.3" y="3.6" width="2.2" height="5.6" fill="#aaa"/></svg>
<div class="t" style="left:562.55px;top:791.00px;font-size:33px;color:#383838;font-weight:400;">60</div>
<div class="t" style="left:490.45px;top:837.00px;font-size:16px;color:#383838;font-weight:400;">AR</div>
<div class="t" style="left:517.35px;top:837.00px;font-size:16px;color:#1c4298;font-weight:400;">247,573</div>
<svg class="a" style="left:684.75px;top:764.19px" width="60" height="60" viewBox="0 0 60 60"><circle cx="30" cy="30" r="21.65" fill="none" stroke="#e9ebee" stroke-width="14.7"/><circle cx="30" cy="30" r="21.65" fill="none" stroke="#94bb35" stroke-width="14.7" stroke-dasharray="20.405 136.031" transform="rotate(-90 30 30)"/></svg>
<div class="t" style="left:757.95px;top:765.00px;font-size:17.5px;color:#383838;font-weight:400;">UR</div>
<svg class="a" style="left:786.15px;top:763.04px" width="3" height="10"><rect x="0.3" y="0.2" width="2.2" height="1.8" fill="#aaa"/><rect x="0.3" y="3.6" width="2.2" height="5.6" fill="#aaa"/></svg>
<div class="t" style="left:760.55px;top:791.00px;font-size:33px;color:#383838;font-weight:400;"><span class="o">1</span>5</div>
<div class="t" style="left:489.45px;top:886.00px;font-size:17.5px;color:#383838;font-weight:400;">Backlinks</div>
<svg class="a" style="left:569.85px;top:883.85px" width="3" height="10"><rect x="0.3" y="0.2" width="2.2" height="1.8" fill="#aaa"/><rect x="0.3" y="3.6" width="2.2" height="5.6" fill="#aaa"/></svg>
<div class="t" style="left:492.75px;top:912.00px;font-size:33px;color:#0b3f96;font-weight:400;"><span class="o">1</span>24K</div>
<div class="t" style="left:490.45px;top:957.00px;font-size:16px;color:#383838;font-weight:400;">All time</div>
<div class="t" style="left:550.25px;top:957.00px;font-size:16px;color:#1c4298;font-weight:400;"><span class="os">1</span>.2M</div>
<div class="t" style="left:695.05px;top:886.00px;font-size:17.5px;color:#383838;font-weight:400;">Ref. domains</div>
<svg class="a" style="left:802.15px;top:883.85px" width="3" height="10"><rect x="0.3" y="0.2" width="2.2" height="1.8" fill="#aaa"/><rect x="0.3" y="3.6" width="2.2" height="5.6" fill="#aaa"/></svg>
<div class="t" style="left:696.25px;top:912.00px;font-size:33px;color:#0b3f96;font-weight:400;">3K</div>
<div class="t" style="left:696.05px;top:957.00px;font-size:16px;color:#383838;font-weight:400;">All time</div>
<div class="t" style="left:755.45px;top:957.00px;font-size:16px;color:#1c4298;font-weight:400;">23.8K</div>
<div class="a" style="left:901px;top:721px;width:1px;height:252px;background:#eeeff1"></div>
<div class="t" style="left:921.15px;top:724.00px;font-size:17px;color:#383838;font-weight:700;">Search</div>
<div class="t" style="left:921.15px;top:765.00px;font-size:17.5px;color:#383838;font-weight:400;">Organic keywords</div>
<svg class="a" style="left:1068.05px;top:762.54px" width="3" height="10"><rect x="0.3" y="0.2" width="2.2" height="1.8" fill="#aaa"/><rect x="0.3" y="3.6" width="2.2" height="5.6" fill="#aaa"/></svg>
<div class="t" style="left:921.15px;top:791.00px;font-size:33px;color:#0b3f96;font-weight:400;">982</div>
<div class="t" style="left:922.15px;top:836.00px;font-size:16px;color:#383838;font-weight:400;">Top 3</div>
<div class="t" style="left:969.75px;top:836.00px;font-size:16px;color:#1c4298;font-weight:400;">245</div>
<div class="t" style="left:1137.45px;top:765.00px;font-size:17.5px;color:#383838;font-weight:400;">Organic traffic</div>
<svg class="a" style="left:1254.45px;top:762.54px" width="3" height="10"><rect x="0.3" y="0.2" width="2.2" height="1.8" fill="#aaa"/><rect x="0.3" y="3.6" width="2.2" height="5.6" fill="#aaa"/></svg>
<div class="t" style="left:1137.05px;top:791.00px;font-size:33px;color:#0b3f96;font-weight:400;">6.4K</div>
<div class="t" style="left:1138.45px;top:836.00px;font-size:16px;color:#383838;font-weight:400;">Value</div>
<div class="t" style="left:1185.75px;top:836.00px;font-size:16px;color:#383838;font-weight:400;">$7.6K</div>
<div class="t" style="left:921.05px;top:886.00px;font-size:17.5px;color:#383838;font-weight:400;">Paid keywords</div>
<svg class="a" style="left:1041.45px;top:883.85px" width="3" height="10"><rect x="0.3" y="0.2" width="2.2" height="1.8" fill="#aaa"/><rect x="0.3" y="3.6" width="2.2" height="5.6" fill="#aaa"/></svg>
<div class="t" style="left:922.15px;top:911.00px;font-size:33px;color:#0b3f96;font-weight:400;">0</div>
<div class="t" style="left:922.05px;top:958.00px;font-size:16px;color:#383838;font-weight:400;">Ads</div>
<div class="t" style="left:956.45px;top:958.00px;font-size:16px;color:#1c4298;font-weight:400;">0</div>
<div class="t" style="left:1137.45px;top:886.00px;font-size:17.5px;color:#383838;font-weight:400;">Paid traffic</div>
<svg class="a" style="left:1227.75px;top:883.85px" width="3" height="10"><rect x="0.3" y="0.2" width="2.2" height="1.8" fill="#aaa"/><rect x="0.3" y="3.6" width="2.2" height="5.6" fill="#aaa"/></svg>
<div class="t" style="left:1138.05px;top:911.00px;font-size:33px;color:#0b3f96;font-weight:400;">0</div>
<div class="t" style="left:1137.45px;top:958.00px;font-size:16px;color:#aaa;font-weight:400;">Cost</div>
<div class="t" style="left:1178.05px;top:958.00px;font-size:16px;color:#aaa;font-weight:400;">N/A</div>
</body></html>
